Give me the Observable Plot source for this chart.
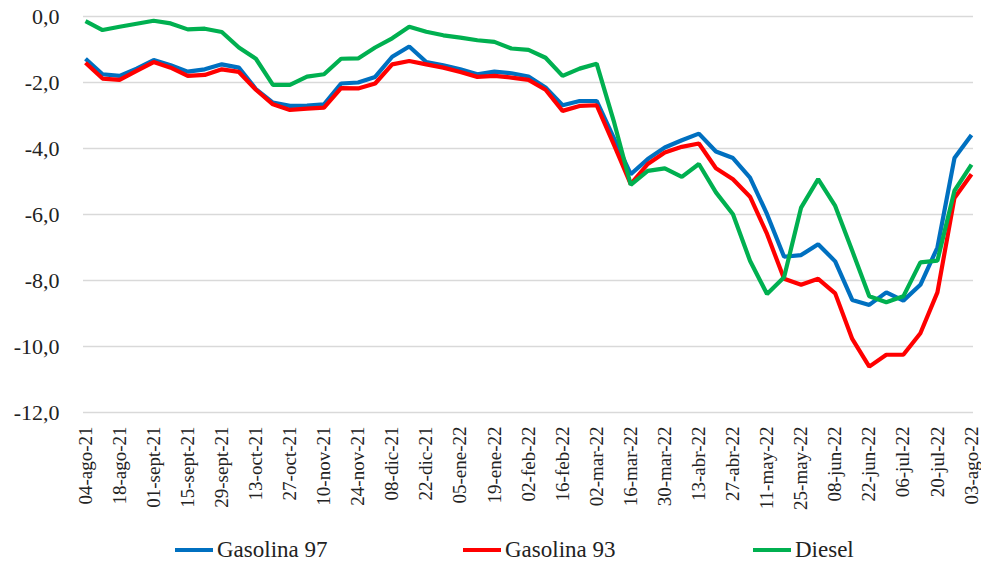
<!DOCTYPE html>
<html>
<head>
<meta charset="utf-8">
<script src="https://cdn.jsdelivr.net/npm/d3@7"></script>
<script src="https://cdn.jsdelivr.net/npm/@observablehq/plot@0.6"></script>
<style>
  html, body { margin: 0; padding: 0; background: #fff; }
  #wrap { position: relative; width: 981px; height: 569px; font-family: 'Liberation Serif', 'DejaVu Serif', 'Times New Roman', serif; }
  #legend { position: absolute; left: 0; top: 528px; width: 981px; height: 44px; }
  .item { position: absolute; top: 0; height: 44px; display: flex; align-items: center; font-size: 23px; color: #222; font-family: 'Liberation Serif', 'DejaVu Serif', 'Times New Roman', serif; }
  .sw { width: 38px; height: 4px; margin-right: 4px; }
  svg text { font-family: 'Liberation Serif', 'DejaVu Serif', 'Times New Roman', serif !important; }
</style>
</head>
<body>
<div id="wrap">
  <div id="chart"></div>
  <div id="legend"></div>
</div>
<script>
const tickLabels = ["04-ago-21","18-ago-21","01-sept-21","15-sept-21","29-sept-21","13-oct-21","27-oct-21","10-nov-21","24-nov-21","08-dic-21","22-dic-21","05-ene-22","19-ene-22","02-feb-22","16-feb-22","02-mar-22","16-mar-22","30-mar-22","13-abr-22","27-abr-22","11-may-22","25-may-22","08-jun-22","22-jun-22","06-jul-22","20-jul-22","03-ago-22"];

const seriesNames = ["Gasolina 97", "Gasolina 93", "Diesel"];
const seriesColors = ["#0070C0", "#FF0000", "#00B050"];

const gasolina97 = [-1.28,-1.75,-1.80,-1.58,-1.32,-1.48,-1.67,-1.60,-1.45,-1.55,
  -2.20,-2.61,-2.71,-2.70,-2.66,-2.03,-2.00,-1.83,-1.22,-0.91,
  -1.38,-1.48,-1.60,-1.75,-1.67,-1.72,-1.82,-2.15,-2.69,-2.56,
  -2.56,-3.67,-4.78,-4.32,-3.97,-3.75,-3.55,-4.09,-4.29,-4.88,
  -5.99,-7.28,-7.23,-6.90,-7.42,-8.59,-8.74,-8.36,-8.61,-8.13,
  -7.00,-4.29,-3.59];

const gasolina93 = [-1.40,-1.88,-1.92,-1.65,-1.38,-1.55,-1.80,-1.77,-1.60,-1.68,
  -2.22,-2.66,-2.83,-2.79,-2.76,-2.17,-2.18,-2.03,-1.45,-1.35,
  -1.45,-1.55,-1.68,-1.83,-1.80,-1.85,-1.92,-2.22,-2.86,-2.71,
  -2.69,-3.87,-5.08,-4.47,-4.12,-3.95,-3.85,-4.60,-4.93,-5.46,
  -6.59,-7.95,-8.13,-7.95,-8.39,-9.77,-10.61,-10.25,-10.25,-9.60,
  -8.36,-5.50,-4.78];

const diesel = [-0.14,-0.41,-0.31,-0.22,-0.13,-0.21,-0.39,-0.37,-0.47,-0.94,
  -1.28,-2.07,-2.07,-1.82,-1.75,-1.28,-1.27,-0.94,-0.66,-0.31,
  -0.46,-0.57,-0.64,-0.72,-0.77,-0.97,-1.01,-1.25,-1.80,-1.58,
  -1.43,-3.16,-5.10,-4.68,-4.60,-4.86,-4.47,-5.33,-5.99,-7.40,
  -8.41,-7.90,-5.79,-4.93,-5.74,-7.10,-8.48,-8.66,-8.48,-7.45,
  -7.40,-5.28,-4.49];

const yTicks = [0, -2, -4, -6, -8, -10, -12];

const allSeries = [gasolina97, gasolina93, diesel];
const rows = [];
allSeries.forEach((vals, s) => vals.forEach((v, i) => rows.push({i, v, s: seriesNames[s]})));

const fmt = d => d.toFixed(1).replace(".", ",");

const chart = Plot.plot({
  width: 981,
  height: 528,
  marginLeft: 83,
  marginRight: 8,
  marginTop: 16,
  marginBottom: 116,
  style: { background: "#fff", color: "#222" },
  x: { type: "linear", domain: [0, 52], insetLeft: 2, insetRight: 2 },
  y: { domain: [-12, 0] },
  color: { domain: seriesNames, range: seriesColors },
  marks: [
    Plot.gridY(yTicks, { stroke: "#d9d9d9", strokeOpacity: 1, strokeWidth: 1.5 }),
    Plot.axisY(yTicks, { tickSize: 0, tickPadding: 24, tickFormat: fmt, fontSize: 22, label: null }),
    Plot.axisX(d3.range(0, 53, 2), { tickSize: 0, tickPadding: 14, tickRotate: -90, fontSize: 19,
      tickFormat: i => tickLabels[i / 2], label: null }),
    Plot.line(rows, { x: "i", y: "v", z: "s", stroke: "s", strokeWidth: 4.2, strokeLinejoin: "miter", strokeLinecap: "butt" })
  ]
});
document.getElementById("chart").appendChild(chart);

const legendPos = [175, 463, 753];
const legend = document.getElementById("legend");
seriesNames.forEach((name, k) => {
  const item = document.createElement("div");
  item.className = "item";
  item.style.left = legendPos[k] + "px";
  const sw = document.createElement("span");
  sw.className = "sw";
  sw.style.background = seriesColors[k];
  const tx = document.createElement("span");
  tx.textContent = name;
  item.appendChild(sw);
  item.appendChild(tx);
  legend.appendChild(item);
});
</script>
</body>
</html>
